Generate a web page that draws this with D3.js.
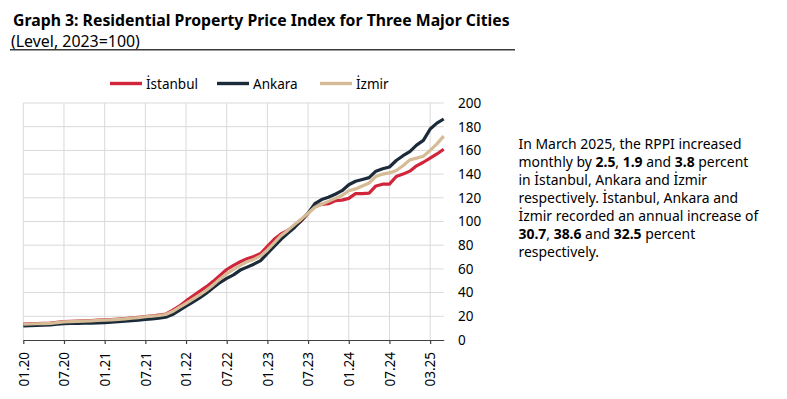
<!DOCTYPE html>
<html><head><meta charset="utf-8">
<script src="https://cdn.jsdelivr.net/npm/d3@7"></script>
<style>
body{margin:0;background:#fff;}
svg{display:block;font-family:"Noto Sans",sans-serif;}
</style>
</head><body>
<svg id="c" width="787" height="399"></svg>
<script>
const months = [
"01.20","02.20","03.20","04.20","05.20","06.20","07.20","08.20","09.20","10.20","11.20","12.20",
"01.21","02.21","03.21","04.21","05.21","06.21","07.21","08.21","09.21","10.21","11.21","12.21",
"01.22","02.22","03.22","04.22","05.22","06.22","07.22","08.22","09.22","10.22","11.22","12.22",
"01.23","02.23","03.23","04.23","05.23","06.23","07.23","08.23","09.23","10.23","11.23","12.23",
"01.24","02.24","03.24","04.24","05.24","06.24","07.24","08.24","09.24","10.24","11.24","12.24",
"01.25","02.25","03.25"];

const istanbul = [
13.5,13.7,13.9,14.0,14.2,14.8,15.5,15.7,15.9,16.1,16.4,16.7,
16.9,17.2,17.6,18.1,18.6,19.1,19.7,20.3,21.0,21.8,25.0,28.5,
33.0,37.0,41.0,45.0,49.5,54.5,59.5,63.0,66.0,68.5,70.5,73.0,
79.0,85.0,89.5,92.5,96.0,100.5,107.0,112.5,114.5,115.0,117.5,118.0,
119.5,123.5,123.5,124.0,130.0,131.5,131.5,138.0,140.0,142.5,147.0,150.0,
153.5,157.0,161.0];

const ankara = [
12.0,12.2,12.4,12.5,12.7,13.3,13.8,14.0,14.1,14.2,14.3,14.5,
14.7,15.0,15.5,15.9,16.3,16.8,17.4,17.9,18.5,19.2,21.5,25.0,
28.5,32.0,35.5,39.5,44.0,48.5,52.0,55.0,59.0,61.5,64.0,67.0,
73.0,79.0,85.0,90.0,95.0,101.0,107.0,115.0,118.5,120.5,123.0,126.0,
131.0,134.0,135.5,137.0,142.5,144.5,146.0,151.5,155.5,159.0,164.5,168.5,
178.0,183.0,186.5];

const izmir = [
13.3,13.5,13.7,13.8,14.0,14.6,15.3,15.5,15.7,15.9,16.2,16.5,
16.7,17.0,17.4,17.9,18.4,18.9,19.6,20.1,20.7,21.5,24.0,27.5,
31.0,34.5,38.0,42.0,46.5,51.5,56.0,59.5,63.0,66.0,68.0,71.0,
76.0,82.0,88.0,92.5,97.5,102.0,107.0,112.0,114.5,117.0,119.5,122.0,
126.0,127.5,130.0,132.5,138.0,140.0,141.0,143.0,147.0,152.0,153.5,155.0,
160.0,165.5,172.0];

const seriesNames = ["İstanbul","Ankara","İzmir"];
const seriesColors = ["#D0253B","#1C2B3A","#D5BC96"];
const xTickMonths = ["01.20","07.20","01.21","07.21","01.22","07.22","01.23","07.23","01.24","07.24","01.25"];
const xTickLabels = ["01.20","07.20","01.21","07.21","01.22","07.22","01.23","07.23","01.24","07.24","03.25"];
const yTicks = [0,20,40,60,80,100,120,140,160,180,200];

const titleText = "Graph 3: Residential Property Price Index for Three Major Cities";
const subtitleText = "(Level, 2023=100)";
const noteLines = [
  [["In March 2025, the RPPI increased",false]],
  [["monthly by ",false],["2.5",true],[", ",false],["1.9",true],[" and ",false],["3.8",true],[" percent",false]],
  [["in İstanbul, Ankara and İzmir",false]],
  [["respectively. İstanbul, Ankara and",false]],
  [["İzmir recorded an annual increase of",false]],
  [["30.7",true],[", ",false],["38.6",true],[" and ",false],["32.5",true],[" percent",false]],
  [["respectively.",false]]
];

const svg = d3.select("#c");
const x = d3.scalePoint().domain(months).range([23.3, 443.7]);
const y = d3.scaleLinear().domain([0,200]).range([340,103]);

function fitWidth(sel, target){
  const w = sel.node().getComputedTextLength();
  const fs = parseFloat(sel.attr("font-size"));
  sel.attr("font-size", fs*target/w);
}

// title
const t = svg.append("text").attr("x",13).attr("y",26).attr("font-size",16)
  .attr("font-weight","bold").attr("fill","#000").text(titleText);
fitWidth(t, 497);
const st = svg.append("text").attr("x",11).attr("y",46.5).attr("font-size",15)
  .attr("fill","#000").text(subtitleText);
fitWidth(st, 129);
svg.append("line").attr("x1",10).attr("x2",515).attr("y1",49.7).attr("y2",49.7)
  .attr("stroke","#3a3a3a").attr("stroke-width",1.5);

// gridlines
const grid = svg.append("g");
grid.selectAll("line.h").data(yTicks.filter(d=>d>0)).join("line")
  .attr("x1",x.range()[0]).attr("x2",x.range()[1])
  .attr("y1",d=>y(d)).attr("y2",d=>y(d))
  .attr("stroke","#d9d9d9").attr("stroke-width",1);
grid.selectAll("line.v").data(xTickMonths).join("line")
  .attr("x1",d=>x(d)).attr("x2",d=>x(d))
  .attr("y1",y(200)).attr("y2",y(0))
  .attr("stroke","#d9d9d9").attr("stroke-width",1);

// x axis
const xa = svg.append("g").attr("transform",`translate(0,${y(0)})`)
  .call(d3.axisBottom(x).tickValues(xTickMonths).tickFormat((d,i)=>xTickLabels[i]).tickSize(4).tickSizeOuter(0));
xa.select(".domain").attr("stroke","#404040").attr("stroke-width",1.2);
xa.selectAll(".tick line").attr("stroke","#404040").attr("stroke-width",1.2);
xa.selectAll(".tick text").attr("transform","rotate(-90)").attr("x",-12).attr("y",0)
  .attr("dy","0.35em").style("text-anchor","end").attr("font-size",13.5)
  .attr("font-family","'Noto Sans',sans-serif").attr("fill","#000");

// y labels (right)
svg.append("g").selectAll("text").data(yTicks).join("text")
  .attr("x",458).attr("y",d=>y(d)).attr("dy","0.36em")
  .attr("font-size",13.5).attr("fill","#000").text(d=>d);

// lines
const series = [istanbul, ankara, izmir];
const line = d3.line().x((d,i)=>x(months[i])).y(d=>y(d));
svg.append("g").selectAll("path").data(series).join("path")
  .attr("d",line).attr("fill","none")
  .attr("stroke",(d,i)=>seriesColors[i]).attr("stroke-width",3.2)
  .attr("stroke-linejoin","round");

// legend
const legX = [110, 217, 320];
const leg = svg.append("g");
seriesNames.forEach((n,i)=>{
  leg.append("line").attr("x1",legX[i]).attr("x2",legX[i]+32).attr("y1",83.5).attr("y2",83.5)
    .attr("stroke",seriesColors[i]).attr("stroke-width",3.4);
  leg.append("text").attr("x",legX[i]+36).attr("y",89).attr("font-size",13.5)
    .attr("fill","#000").text(n);
});

// annotation
const note = svg.append("g");
const noteNodes = noteLines.map((segs,k)=>{
  const tx = note.append("text").attr("x",518.5).attr("y",149.3+k*17.9).attr("font-size",14).attr("fill","#000");
  segs.forEach(([s,b])=>tx.append("tspan").attr("font-weight",b?"bold":"normal").text(s));
  return tx;
});
const w5 = noteNodes[4].node().getComputedTextLength();
const nfs = 14*240/w5;
noteNodes.forEach(n=>n.attr("font-size",nfs));
</script>
</body></html>
